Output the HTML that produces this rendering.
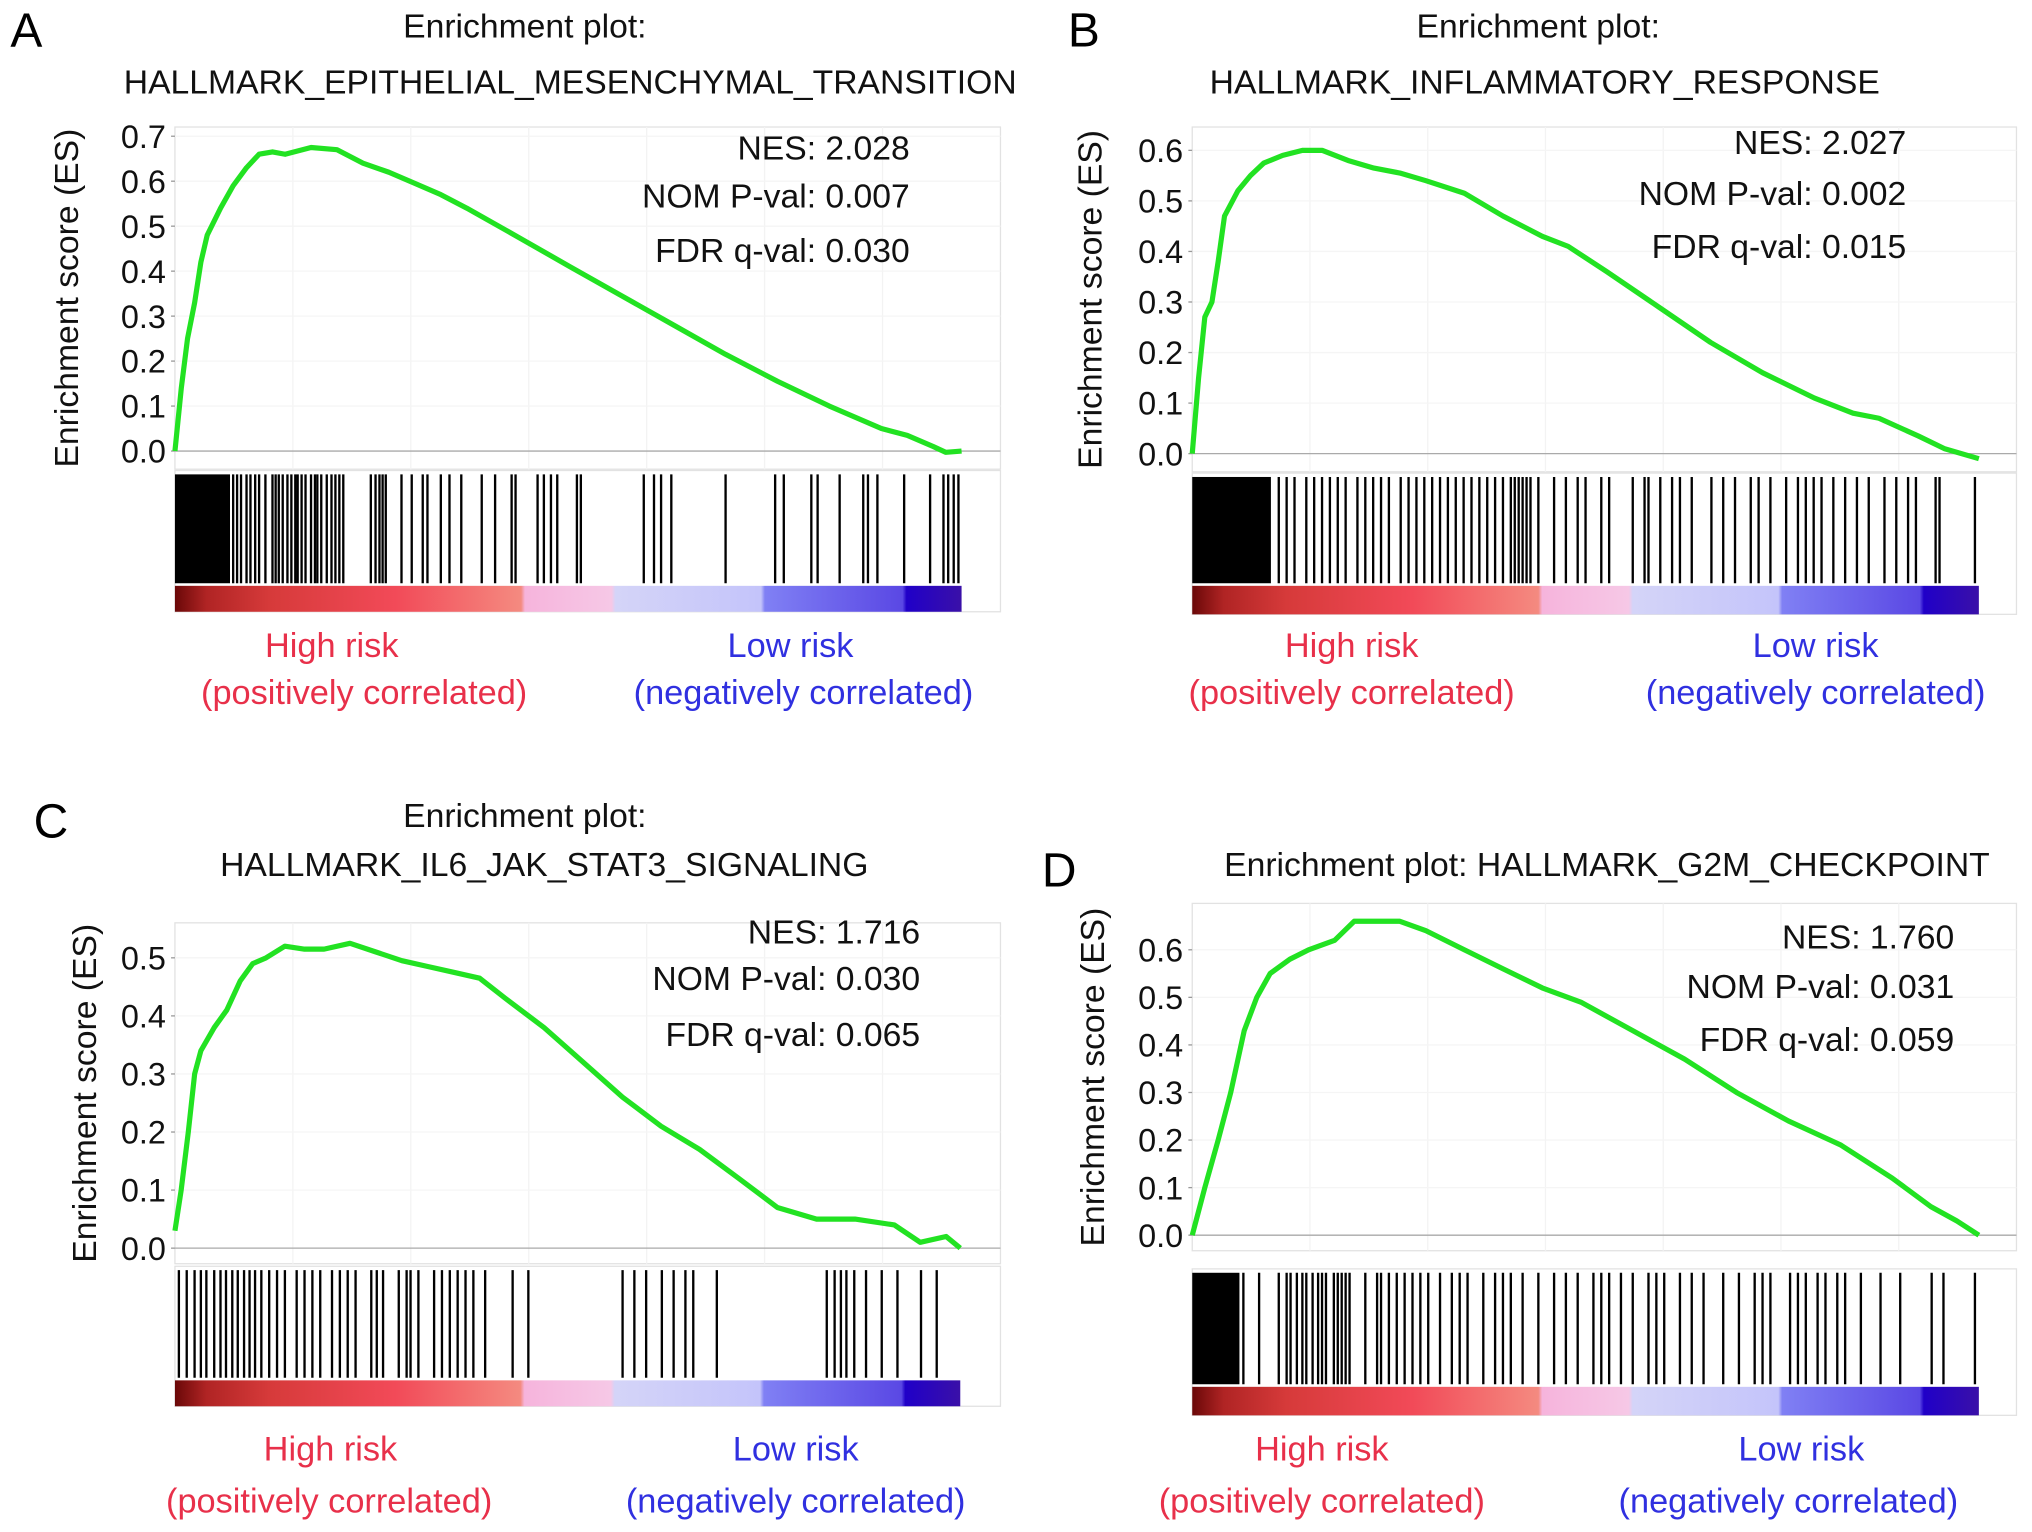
<!DOCTYPE html>
<html><head><meta charset="utf-8">
<style>
html,body{margin:0;padding:0;background:#fff;}
svg{display:block;font-family:"Liberation Sans",Arial,sans-serif;}
</style></head>
<body>
<svg id="fig" width="2032" height="1532" viewBox="0 0 1568 1182" preserveAspectRatio="none" xmlns="http://www.w3.org/2000/svg">
<defs>
<linearGradient id="rank" x1="0" x2="1" y1="0" y2="0">
<stop offset="0" stop-color="#6a0808"/><stop offset="0.04" stop-color="#b02424"/>
<stop offset="0.12" stop-color="#d63a3a"/><stop offset="0.28" stop-color="#f24a58"/>
<stop offset="0.44" stop-color="#f48a80"/><stop offset="0.445" stop-color="#f6b4dc"/>
<stop offset="0.555" stop-color="#f6c8e6"/><stop offset="0.56" stop-color="#d4d4f8"/>
<stop offset="0.745" stop-color="#c4c4fa"/><stop offset="0.75" stop-color="#8080f4"/>
<stop offset="0.925" stop-color="#5a48e4"/><stop offset="0.93" stop-color="#2000c8"/>
<stop offset="1" stop-color="#3a10a8"/>
</linearGradient>
</defs>
</svg>
<script>
// ---------- data ----------
const esRankA = [0,0.8,1.6,2.5,3.3,4.1,5.8,7.4,9.1,10.7,12.4,14,17.3,20.6,23.9,27.2,30.5,33.8,37.1,43.7,50.2,56.8,63.4,70,76.6,83.2,89.8,93.1,96.4,98,100];
const esValA  = [0,0.14,0.25,0.33,0.42,0.48,0.54,0.59,0.63,0.66,0.665,0.66,0.675,0.67,0.64,0.62,0.595,0.57,0.54,0.475,0.41,0.345,0.28,0.215,0.155,0.1,0.05,0.035,0.01,-0.003,0];
const hitsA = [7.4,7.9,8.4,9.1,9.6,10.2,10.7,11.5,12.4,12.8,13.2,13.7,14.3,14.8,15.3,15.6,16.1,16.6,17.3,17.8,18.1,18.6,19.3,19.9,20.4,20.9,21.4,24.9,25.5,26,26.4,26.8,28.8,30.1,31.5,32.1,33.8,34.9,36.4,39,40.7,42.8,43.3,46.1,46.9,47.8,48.6,51.1,51.6,59.6,60.9,61.8,63.1,70,76.3,77.4,80.9,81.7,84.5,87.5,88.1,89.3,92.7,96,97.7,98.3,99,99.6];
const denseA = [0,7];

const esRankB = [0,0.8,1.6,2.5,3.3,4.1,5.8,7.4,9.1,11.5,14,16.5,19.8,23.1,26.4,29.7,34.6,39.5,44.5,47.8,52.7,59.3,65.9,72.5,79.1,84,87.3,92.3,95.6,100];
const esValB  = [0,0.15,0.27,0.3,0.38,0.47,0.52,0.55,0.575,0.59,0.6,0.6,0.58,0.565,0.555,0.54,0.515,0.47,0.43,0.41,0.36,0.29,0.22,0.16,0.11,0.08,0.07,0.035,0.01,-0.01];
const hitsB = [11,12,13,14.5,15.5,16.5,17.5,18.5,19.5,21,22,23,24,25,26.5,27.5,28.5,29.5,30.5,31.5,32.5,33.5,34.5,35.5,36.5,37.5,38.5,39.5,40.5,41,41.5,42,42.5,43,44,46,47.5,49,50,52,53,56,57.5,58,59.5,61,62,63.5,66,67.5,69,71,72,73.5,75.5,77,78,79,80,81.5,83,84.5,86,88,89.5,91,92,94.5,95,99.5];
const denseB = [0,10];

const esRankC = [0,0.8,1.7,2.5,3.3,5,6.6,8.3,9.9,11.6,14,16.5,19,22.3,25.6,28.9,32.2,35.5,38.8,42.1,47.0,52.0,57.0,61.9,66.8,71.8,76.7,81.7,86.6,91.6,94.9,98.2,100];
const esValC  = [0.03,0.1,0.2,0.3,0.34,0.38,0.41,0.46,0.49,0.5,0.52,0.515,0.515,0.525,0.51,0.495,0.485,0.475,0.465,0.43,0.38,0.32,0.26,0.21,0.17,0.12,0.07,0.05,0.05,0.04,0.01,0.02,0];
const hitsC = [0.5,1.5,2.5,3.3,4,5,5.8,6.5,7.3,8,8.8,9.5,10.2,11,12,13,14,15.5,16.5,17.5,18.5,20,21,22,23,25,25.7,26.5,28.5,29.5,30,31,33,34,35,36,37,38,39.5,43,45,57,58.5,60,62,63.5,65,66,69,83,84,84.8,85.5,86.5,88,90,92,95,97];
const denseC = [0,0];

const esRankD = [0,1.6,3.3,4.9,6.6,8.2,9.9,12.4,14.8,18.1,20.6,23.1,26.4,29.7,34.6,39.5,44.5,49.4,56,62.6,69.2,75.8,82.4,89,93.9,97.2,100];
const esValD  = [0,0.1,0.2,0.3,0.43,0.5,0.55,0.58,0.6,0.62,0.66,0.66,0.66,0.64,0.6,0.56,0.52,0.49,0.43,0.37,0.3,0.24,0.19,0.12,0.06,0.03,0];
const hitsD = [6.5,8.5,11,12,12.5,13.3,14,14.5,15.3,16,16.5,17,18,18.5,19,19.5,20,22,23.5,24,25,26,27,28,29,30,31.5,33,34,35,37,38.5,39.5,40.5,42,44,46,47.5,49,51,52,53,54.5,56,58,59,60,62,63.5,65,67.5,69.5,71.5,72.5,73.5,76,77,78,79.5,80.5,82,83,85,87.5,90,94,95.5,99.5];
const denseD = [0,6];

const ticksA = ["0.0","0.1","0.2","0.3","0.4","0.5","0.6","0.7"];
const ticksB = ["0.0","0.1","0.2","0.3","0.4","0.5","0.6"];
const ticksC = ["0.0","0.1","0.2","0.3","0.4","0.5"];
const ticksD = ["0.0","0.1","0.2","0.3","0.4","0.5","0.6"];

const statsA = ["NES: 2.028","NOM P-val: 0.007","FDR q-val: 0.030"];
const statsB = ["NES: 2.027","NOM P-val: 0.002","FDR q-val: 0.015"];
const statsC = ["NES: 1.716","NOM P-val: 0.030","FDR q-val: 0.065"];
const statsD = ["NES: 1.760","NOM P-val: 0.031","FDR q-val: 0.059"];

// ---------- drawing ----------
const svg = document.getElementById('fig');
const NS = 'http://www.w3.org/2000/svg';
function mk(tag, attrs, parent){
  const e = document.createElementNS(NS, tag);
  for (const k in attrs) e.setAttribute(k, attrs[k]);
  (parent||svg).appendChild(e);
  return e;
}
function txt(s, attrs, parent){ const e = mk('text', attrs, parent); e.textContent = s; return e; }

function panel(cfg){
  const g = mk('g', {});
  
  
  const L = cfg.left, R = cfg.right, dataR = cfg.dataRight;
  const xs = r => L + (dataR - L) * r / 100;
  const ys = v => cfg.zeroY - v * 10 * cfg.per01;

  const letter = txt(cfg.id, {x: cfg.letterX, y: cfg.letterY, 'font-size': 37, fill: '#000'}, g);
  
  
  cfg.titles.forEach((t, i) => {
    const e = txt(t[0], {x: t[1], y: t[2], 'font-size': 26, 'text-anchor': 'middle', fill: '#111'}, g);
    
    
  });

  const box = mk('rect', {x: L, y: cfg.top, width: R - L, height: cfg.boxBottom - cfg.top, fill: '#fff', stroke: '#e2e2e2', 'stroke-width': 1}, g);
  
  
  for (let i = 1; i < 7; i++) {
    const gx = L + (R - L) * i / 7;
    mk('line', {x1: gx, x2: gx, y1: cfg.top, y2: cfg.boxBottom, stroke: '#f3f3f3', 'stroke-width': 1}, g);
  }
  cfg.ticks.forEach((t, i) => {
    const y = ys(parseFloat(t));
    if (i > 0) mk('line', {x1: L, x2: R, y1: y, y2: y, stroke: '#f5f5f5', 'stroke-width': 1}, g);
    mk('line', {x1: L - 3, x2: L, y1: y, y2: y, stroke: '#999', 'stroke-width': 1}, g);
    const tl = txt(t, {x: L - 7, y: y + 9, 'font-size': 25, 'text-anchor': 'end', fill: '#111'}, g);
    
    
  });
  const zl = mk('line', {x1: L, x2: R, y1: cfg.zeroY, y2: cfg.zeroY, stroke: '#aaa', 'stroke-width': 1}, g);
  
  

  const ylx = cfg.ylabelX, yly = (cfg.top + cfg.boxBottom) / 2;
  const yl = txt('Enrichment score (ES)', {x: ylx, y: yly, 'font-size': 26, 'text-anchor': 'middle', fill: '#111', transform: `rotate(-90 ${ylx} ${yly})`}, g);
  
  

  const pts = cfg.rank.map((r, i) => xs(r).toFixed(1) + ',' + ys(cfg.es[i]).toFixed(1)).join(' ');
  const line = mk('polyline', {points: pts, fill: 'none', stroke: '#22e222', 'stroke-width': 4, 'stroke-linejoin': 'round'}, g);
  
  

  cfg.stats.forEach((s, i) => {
    const e = txt(s, {x: cfg.statsX, y: cfg.statsY[i], 'font-size': 26, 'text-anchor': 'end', fill: '#111'}, g);
    
    
  });

  const bb = mk('rect', {x: L, y: cfg.barTop - 3, width: R - L, height: cfg.cbBottom - cfg.barTop + 3, fill: '#fff', stroke: '#e2e2e2', 'stroke-width': 1}, g);
  
  
  if (cfg.dense[1] > cfg.dense[0]) {
    const d = mk('rect', {x: xs(cfg.dense[0]), y: cfg.barTop, width: xs(cfg.dense[1]) - xs(cfg.dense[0]), height: cfg.barBottom - cfg.barTop, fill: '#000'}, g);
    
    
  }
  cfg.hits.forEach(h => {
    const x = xs(h);
    const l = mk('line', {x1: x, x2: x, y1: cfg.barTop, y2: cfg.barBottom, stroke: '#000', 'stroke-width': 1.8}, g);
    
    
  });
  const cb = mk('rect', {x: L, y: cfg.cbTop, width: dataR - L, height: cfg.cbBottom - cfg.cbTop, fill: 'url(#rank)'}, g);
  
  

  const lb = cfg.labels;
  [['High risk', lb.hx, lb.y1, '#e8304a', 'high-risk-label'],
   ['(positively correlated)', lb.px, lb.y2, '#e8304a', 'positive-label'],
   ['Low risk', lb.lx, lb.y1, '#3030e0', 'low-risk-label'],
   ['(negatively correlated)', lb.nx, lb.y2, '#3030e0', 'negative-label']].forEach(a => {
    const e = txt(a[0], {x: a[1], y: a[2], 'font-size': 26.5, 'text-anchor': 'middle', fill: a[3]}, g);
    
    
  });
}

panel({id:'A', left:135, right:772, dataRight:742, top:98, boxBottom:362, zeroY:348, per01:34.7,
  ticks:ticksA, rank:esRankA, es:esValA, hits:hitsA, dense:denseA, stats:statsA,
  statsX:702, statsY:[123,160,202], letterX:8, letterY:36, ylabelX:60,
  titles:[['Enrichment plot:',405,29],['HALLMARK_EPITHELIAL_MESENCHYMAL_TRANSITION',440,72]],
  barTop:366, barBottom:450, cbTop:452, cbBottom:472,
  labels:{hx:256,px:281,lx:610,nx:620,y1:507,y2:543}});
panel({id:'B', left:920, right:1556, dataRight:1527, top:98, boxBottom:364, zeroY:350, per01:39,
  ticks:ticksB, rank:esRankB, es:esValB, hits:hitsB, dense:denseB, stats:statsB,
  statsX:1471, statsY:[119,158,199], letterX:824, letterY:36, ylabelX:850,
  titles:[['Enrichment plot:',1187,29],['HALLMARK_INFLAMMATORY_RESPONSE',1192,72]],
  barTop:368, barBottom:450, cbTop:452, cbBottom:474,
  labels:{hx:1043,px:1043,lx:1401,nx:1401,y1:507,y2:543}});
panel({id:'C', left:135, right:772, dataRight:741, top:712, boxBottom:975, zeroY:963, per01:44.8,
  ticks:ticksC, rank:esRankC, es:esValC, hits:hitsC, dense:denseC, stats:statsC,
  statsX:710, statsY:[728,764,807], letterX:26, letterY:646, ylabelX:74,
  titles:[['Enrichment plot:',405,638],['HALLMARK_IL6_JAK_STAT3_SIGNALING',420,676]],
  barTop:980, barBottom:1063, cbTop:1065, cbBottom:1085,
  labels:{hx:255,px:254,lx:614,nx:614,y1:1127,y2:1167}});
panel({id:'D', left:920, right:1556, dataRight:1527, top:697, boxBottom:965, zeroY:953, per01:36.7,
  ticks:ticksD, rank:esRankD, es:esValD, hits:hitsD, dense:denseD, stats:statsD,
  statsX:1508, statsY:[732,770,811], letterX:804, letterY:684, ylabelX:852,
  titles:[['Enrichment plot: HALLMARK_G2M_CHECKPOINT',1240,676]],
  barTop:982, barBottom:1068, cbTop:1070, cbBottom:1092,
  labels:{hx:1020,px:1020,lx:1390,nx:1380,y1:1127,y2:1167}});
</script>
</body></html>
